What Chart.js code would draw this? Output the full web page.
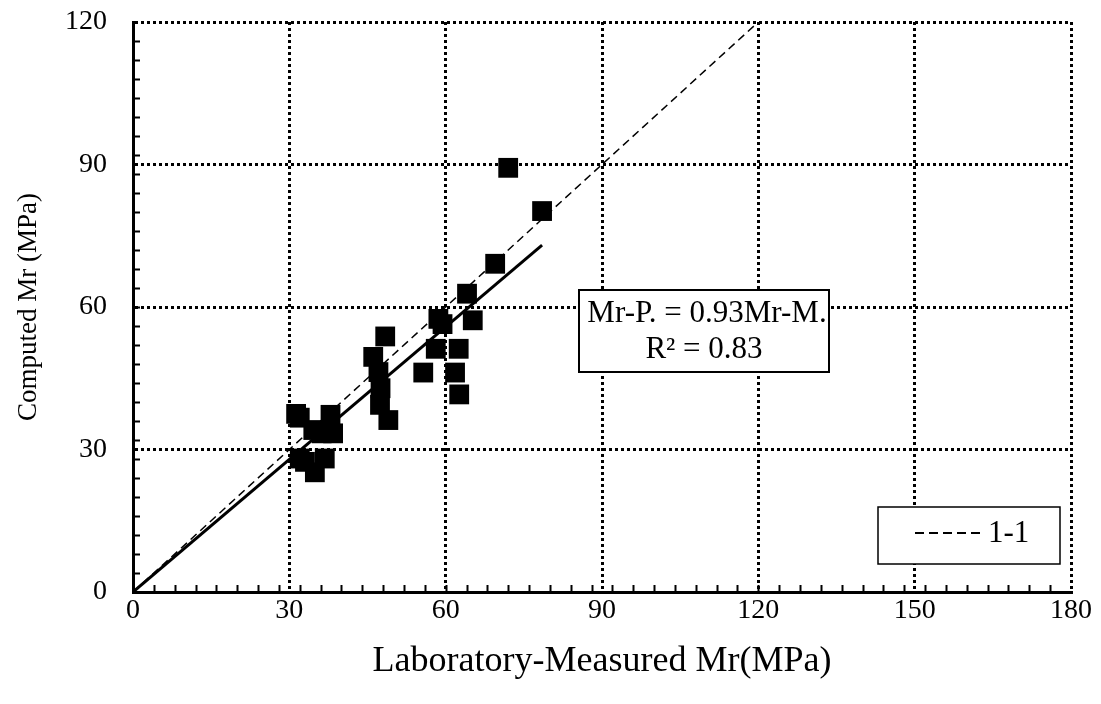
<!DOCTYPE html>
<html>
<head>
<meta charset="utf-8">
<script src="https://cdn.jsdelivr.net/npm/chart.js@4/dist/chart.umd.min.js"></script>
<style>
html,body{margin:0;padding:0;background:#fff;}
#wrap{width:1101px;height:704px;}
</style>
</head>
<body>
<div id="wrap"><canvas id="c" width="1101" height="704"></canvas></div>
<script>
// ---- data ----
const measuredMr = [72.0, 78.5, 69.5, 64.1, 58.6, 59.4, 65.2, 58.1, 62.5, 55.7, 61.8, 62.6,
                    48.4, 46.1, 47.1, 47.5, 47.4, 49.0,
                    31.3, 32.0, 37.9, 36.2, 38.4, 34.6, 32.0, 36.8, 34.9, 33.0];
const computedMr = [89.3, 80.2, 69.1, 62.8, 57.5, 56.4, 57.2, 51.2, 51.2, 46.2, 46.2, 41.6,
                    53.8, 49.5, 46.3, 42.9, 39.4, 36.2,
                    37.5, 36.7, 37.3, 33.4, 33.4, 34.1, 28.1, 28.1, 25.2, 27.4];
const fitSlope = 0.93;
const fitX = [0, 78.5];
const oneToOneX = [0, 120];
const xTicks = [0, 30, 60, 90, 120, 150, 180];
const yTicks = [0, 30, 60, 90, 120];
const minorStep = 4;
const xTitle = 'Laboratory-Measured Mr(MPa)';
const yTitle = 'Computed Mr (MPa)';
const eqLines = ['Mr-P. = 0.93Mr-M.', 'R\u00B2 = 0.83'];
const legendLabel = '1-1';

const FONT = '"Liberation Serif", "Times New Roman", serif';

const scatterPts = measuredMr.map((x, i) => ({x: x, y: computedMr[i]}));
const fitPts = fitX.map(x => ({x: x, y: fitSlope * x}));
const onePts = oneToOneX.map(x => ({x: x, y: x}));

const minorTicks = {
  id: 'minorTicks',
  beforeDatasetsDraw(chart) {
    const {ctx, chartArea: a, scales: {x, y}} = chart;
    ctx.save();
    ctx.strokeStyle = '#000';
    ctx.lineWidth = 2;
    ctx.beginPath();
    for (let v = minorStep; v < x.max; v += minorStep) {
      const px = Math.round(x.getPixelForValue(v)) + 0.5;
      ctx.moveTo(px, a.bottom); ctx.lineTo(px, a.bottom - 7);
    }
    for (let v = minorStep; v < y.max; v += minorStep) {
      const py = Math.round(y.getPixelForValue(v)) + 0.5;
      ctx.moveTo(a.left, py); ctx.lineTo(a.left + 7, py);
    }
    ctx.stroke();
    ctx.restore();
  }
};

const boxes = {
  id: 'boxes',
  afterDatasetsDraw(chart) {
    const {ctx, chartArea: a} = chart;
    ctx.save();
    // equation box
    const ex = a.left + 446, ey = a.top + 268, ew = 250, eh = 82;
    ctx.fillStyle = '#fff';
    ctx.fillRect(ex, ey, ew, eh);
    ctx.strokeStyle = '#000';
    ctx.lineWidth = 2;
    ctx.strokeRect(ex, ey, ew, eh);
    ctx.fillStyle = '#000';
    ctx.font = '31px ' + FONT;
    ctx.textAlign = 'center';
    ctx.textBaseline = 'middle';
    ctx.fillText(eqLines[0], ex + ew / 2 + 3, ey + 24);
    ctx.fillText(eqLines[1], ex + ew / 2, ey + 60);
    // legend box
    const lx = a.left + 745, ly = a.top + 485, lw = 182, lh = 57;
    ctx.fillStyle = '#fff';
    ctx.fillRect(lx, ly, lw, lh);
    ctx.lineWidth = 1.5;
    ctx.strokeRect(lx, ly, lw, lh);
    ctx.beginPath();
    ctx.lineWidth = 2;
    ctx.setLineDash([9, 5]);
    ctx.moveTo(lx + 37, ly + 26); ctx.lineTo(lx + 102, ly + 26);
    ctx.stroke();
    ctx.setLineDash([]);
    ctx.fillStyle = '#000';
    ctx.textAlign = 'left';
    ctx.fillText(legendLabel, lx + 110, ly + 27);
    ctx.restore();
  }
};

new Chart(document.getElementById('c'), {
  type: 'scatter',
  data: {
    datasets: [
      {label: '1-1', type: 'line', data: onePts, borderColor: '#000', borderWidth: 1.5,
       borderDash: [8, 5], pointRadius: 0, fill: false, order: 3},
      {label: 'fit', type: 'line', data: fitPts, borderColor: '#000', borderWidth: 3,
       pointRadius: 0, fill: false, order: 2},
      {label: 'data', data: scatterPts, pointStyle: 'rect', pointRadius: 14,
       backgroundColor: '#000', borderColor: '#000', borderWidth: 0, order: 1}
    ]
  },
  plugins: [minorTicks, boxes],
  options: {
    responsive: false,
    animation: false,
    devicePixelRatio: 1,
    layout: {padding: {left: 0, top: 22, right: 30, bottom: 0}},
    plugins: {legend: {display: false}, tooltip: {enabled: false}},
    scales: {
      x: {
        type: 'linear', min: 0, max: 180,
        afterBuildTicks: s => { s.ticks = xTicks.map(v => ({value: v})); },
        afterFit: s => { s.height = 112; s.paddingLeft = 0; s.paddingRight = 0; },
        ticks: {color: '#000', font: {family: FONT, size: 28}, padding: 2, maxRotation: 0},
        grid: {color: '#000', lineWidth: 3, drawTicks: false, tickLength: 0},
        border: {display: true, color: '#000', width: 3, dash: [3, 3]},
        title: {display: true, text: xTitle, color: '#000', font: {family: FONT, size: 36},
                padding: {top: 0, bottom: 21}}
      },
      y: {
        type: 'linear', min: 0, max: 120,
        afterBuildTicks: s => { s.ticks = yTicks.map(v => ({value: v})); },
        afterFit: s => { s.width = 133; s.paddingTop = 0; s.paddingBottom = 0; },
        ticks: {color: '#000', font: {family: FONT, size: 28}, padding: 26},
        grid: {color: '#000', lineWidth: 3, drawTicks: false, tickLength: 0},
        border: {display: true, color: '#000', width: 3, dash: [3, 3]},
        title: {display: true, text: yTitle, color: '#000', font: {family: FONT, size: 27},
                padding: {top: 13, bottom: 0}}
      }
    }
  }
});
</script>
</body>
</html>
